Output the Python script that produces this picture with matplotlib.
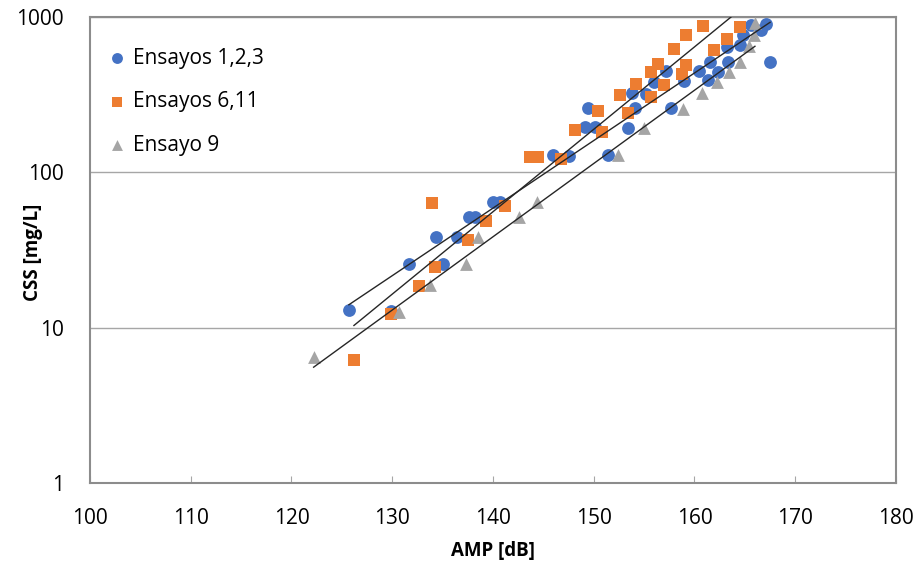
import numpy as np
import matplotlib
matplotlib.use("Agg")
import matplotlib.pyplot as plt

plt.rcParams['font.family'] = ['Open Sans', 'DejaVu Sans']

# Ensayos 1,2,3
amp_123 = [125.7, 129.9, 131.7, 134.3, 135.0, 136.4, 137.6, 138.2, 140.0, 140.7,
           146.0, 147.5, 151.4, 149.1, 150.1, 149.4, 153.4, 154.1, 153.8, 155.2,
           156.0, 157.2, 157.7, 159.0, 160.4, 161.3, 161.5, 162.3, 163.2, 163.3,
           164.5, 164.8, 165.6, 166.6, 167.1, 167.5]
css_123 = [13.0, 12.8, 25.7, 38.5, 25.6, 38.5, 51.4, 51.4, 64.5, 64.5,
           129, 127, 129, 197, 197, 259, 192, 259, 322, 318,
           382, 448, 258, 390, 450, 392, 514, 443, 642, 514,
           658, 764, 885, 822, 907, 513]

# Ensayos 6,11
amp_611 = [126.2, 129.9, 132.7, 133.9, 134.2, 137.5, 139.3, 141.2, 143.7, 144.5,
           146.8, 148.1, 150.4, 150.8, 152.6, 153.4, 154.2, 155.7, 155.7, 156.4,
           157.0, 158.0, 158.8, 159.2, 159.2, 160.8, 161.9, 163.2, 164.5]
css_611 = [6.2, 12.2, 18.6, 63.2, 24.5, 36.7, 48.9, 60.8, 125, 125,
           122, 188, 250, 183, 315, 240, 373, 307, 443, 501,
           364, 626, 432, 489, 764, 876, 611, 726, 864]

# Ensayo 9
amp_9 = [122.2, 130.7, 133.7, 137.3, 138.5, 142.6, 144.4, 152.4, 155.0, 158.9,
         160.7, 162.2, 163.4, 164.5, 165.4, 165.9, 166.0]
css_9 = [6.5, 12.7, 18.8, 25.6, 38.5, 51.4, 64.7, 129, 193, 256,
         326, 383, 444, 514, 650, 764, 910]

series = [
    ("Ensayos 1,2,3", amp_123, css_123, "o", "#4472C4", 85),
    ("Ensayos 6,11", amp_611, css_611, "s", "#ED7D31", 75),
    ("Ensayo 9", amp_9, css_9, "^", "#A5A5A5", 85),
]

fig = plt.figure(figsize=(9.17, 5.70), dpi=100)
ax = fig.add_axes([0.0981, 0.1526, 0.879, 0.8175])

for label, x, y, marker, color, size in series:
    ax.scatter(x, y, marker=marker, s=size, color=color, label=label,
               linewidths=0, zorder=3)

# exponential trend line for each series
for label, x, y, marker, color, size in series:
    x = np.array(x)
    b, a = np.polyfit(x, np.log10(y), 1)
    xs = np.linspace(x.min(), x.max(), 50)
    ax.plot(xs, 10 ** (a + b * xs), color="#262626", lw=1.0, zorder=4)

ax.set_yscale("log")
ax.set_xlim(100, 180)
ax.set_ylim(1, 1000)
ax.set_xticks(range(100, 181, 10))
ax.set_yticks([1, 10, 100, 1000])
ax.set_yticklabels(["1", "10", "100", "1000"])
ax.yaxis.set_minor_locator(matplotlib.ticker.NullLocator())

ax.grid(axis="y", which="major", color="#A6A6A6", lw=1.0)
ax.set_axisbelow(True)
for side in ax.spines.values():
    side.set_color("#8C8C8C")
    side.set_linewidth(1.5)

ax.tick_params(axis="x", direction="in", length=5, color="#A6A6A6",
               labelsize=15, pad=18)
ax.tick_params(axis="y", length=0, labelsize=15, pad=19)

ax.set_xlabel("AMP [dB]", fontsize=13.5, fontweight="bold")
ax.set_ylabel("CSS [mg/L]", fontsize=13.5, fontweight="bold")
ax.xaxis.set_label_coords(0.5, -0.146)
ax.yaxis.set_label_coords(-0.0707, 0.494)
ax.xaxis.label.set_va("center")
ax.yaxis.label.set_va("center")

ax.legend(loc="upper left", bbox_to_anchor=(0.021, 0.934), frameon=False,
          fontsize=15, handletextpad=0.25, labelspacing=1.08, borderpad=0,
          borderaxespad=0, markerscale=0.85, handlelength=1.0)

fig.savefig("out.png", dpi=100)
